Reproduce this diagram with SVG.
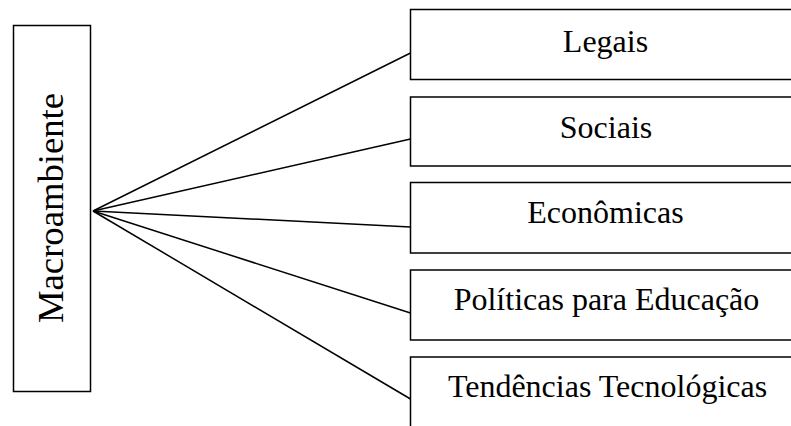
<svg xmlns="http://www.w3.org/2000/svg" width="791" height="426" viewBox="0 0 791 426">
<style>
.box{fill:#fff;stroke:#000;stroke-width:1.5}
.lbl{font-family:"Liberation Serif","Times New Roman",serif;font-size:32px;fill:#000;text-anchor:middle}
.conn line{stroke:#000;stroke-width:1.5}
</style>
<rect width="791" height="426" fill="#fff"/>
<g id="macroambiente">
<rect class="box" x="13.5" y="25.5" width="77" height="366"/>
<text class="lbl" style="font-size:36px" transform="translate(63,208) rotate(-90)" x="0" y="0" textLength="230" lengthAdjust="spacingAndGlyphs">Macroambiente</text>
</g>
<g id="legais">
<rect class="box" x="410.5" y="9.5" width="400" height="70"/>
<text class="lbl" x="605.5" y="52">Legais</text>
</g>
<g id="sociais">
<rect class="box" x="410.5" y="97" width="400" height="69"/>
<text class="lbl" x="606" y="138">Sociais</text>
</g>
<g id="economicas">
<rect class="box" x="410.5" y="182.5" width="400" height="70.5"/>
<text class="lbl" x="605.5" y="223">Econômicas</text>
</g>
<g id="politicas">
<rect class="box" x="410.5" y="270" width="400" height="70"/>
<text class="lbl" x="606.5" y="310">Políticas para Educação</text>
</g>
<g id="tendencias">
<rect class="box" x="410.5" y="357" width="400" height="100"/>
<text class="lbl" x="607.5" y="397">Tendências Tecnológicas</text>
</g>
<g id="connectors" class="conn">
<line x1="93" y1="211" x2="410.5" y2="53"/>
<line x1="93" y1="211" x2="410.5" y2="139"/>
<line x1="93" y1="211" x2="410.5" y2="227"/>
<line x1="93" y1="211" x2="410.5" y2="313"/>
<line x1="93" y1="211" x2="410.5" y2="399"/>
</g>
</svg>
